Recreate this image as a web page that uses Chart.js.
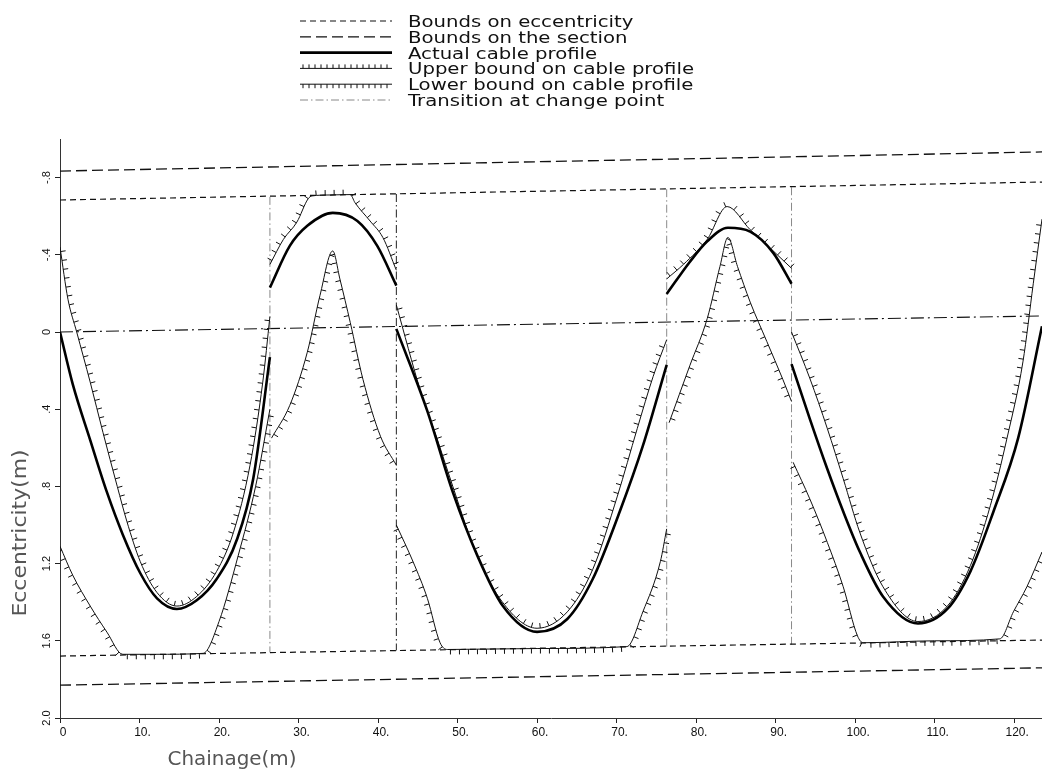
<!DOCTYPE html>
<html>
<head>
<meta charset="utf-8">
<script src="https://cdn.jsdelivr.net/npm/chart.js@4.4.0/dist/chart.umd.min.js"></script>
<style>
  html, body { margin: 0; padding: 0; background: #fff; }
  #wrap { width: 1042px; height: 777px; }
</style>
</head>
<body>
<div id="wrap"><canvas id="chart" width="1042" height="777"></canvas></div>
<script>
// chainage (m) against eccentricity (m)
// null y breaks a curve at a change point
const xTickValues = [0, 10, 20, 30, 40, 50, 60, 70, 80, 90, 100, 110, 120];
const xTickLabels = ['0', '10.', '20.', '30.', '40.', '50.', '60.', '70.', '80.', '90.', '100.', '110.', '120.'];
const yTickValues = [-0.8, -0.4, 0, 0.4, 0.8, 1.2, 1.6, 2.0];
const yTickLabels = ['-.8', '-.4', '0', '.4', '.8', '1.2', '1.6', '2.0'];

const legendLabels = [
  'Bounds on eccentricity',
  'Bounds on the section',
  'Actual cable profile',
  'Upper bound on cable profile',
  'Lower bound on cable profile',
  'Transition at change point'
];

const boundX = [0, 123.5];
const eccTopY = [-0.684, -0.777];
const eccBotY = [1.679, 1.596];
const secTopY = [-0.834, -0.933];
const secBotY = [1.83, 1.74];
const zeroY = [0, -0.083];

const actualX = [0, 1.6, 3.8, 5.9, 7.9, 10.1, 12.2, 14.7, 17.2, 19.7, 22.3, 24.3, 26.4,
  26.4, 26.4, 28.9, 31.1, 34.3, 37.4, 39.9, 42.3,
  42.3, 42.3, 46.2, 49.4, 52.5, 55.7, 60.0, 63.8, 67.0, 70.4, 73.3, 76.3,
  76.3, 76.3, 79.2, 81.4, 84.0, 86.8, 89.7, 92.0,
  92.0, 92.0, 94.3, 96.5, 98.5, 100.6, 103.5, 107.9, 111.6, 114.5, 117.4, 120.5, 123.5];
const actualY = [0, 0.27, 0.56, 0.83, 1.05, 1.25, 1.38, 1.435, 1.39, 1.28, 1.07, 0.76, 0.13,
  null, -0.23, -0.446, -0.55, -0.617, -0.575, -0.446, -0.24,
  null, -0.016, 0.41, 0.83, 1.16, 1.42, 1.554, 1.487, 1.28, 0.93, 0.59, 0.17,
  null, -0.197, -0.363, -0.47, -0.54, -0.52, -0.41, -0.25,
  null, 0.166, 0.45, 0.71, 0.93, 1.14, 1.37, 1.51, 1.435, 1.24, 0.93, 0.55, -0.03];

const upperX = [0, 1.0, 2.1, 3.8, 5.4, 7.2, 8.4, 10.1, 12.2, 14.7, 17.2, 19.7, 21.8, 23.9, 25.5, 26.4,
  26.4, 26.4, 28.1, 29.8, 31.2, 31.7, 34.0, 36.5, 37.1, 39.0, 40.6, 42.3,
  42.3, 42.3, 45.3, 47.4, 49.4, 52.0, 55.3, 60.0, 63.8, 67.0, 70.1, 72.6, 74.6, 76.3,
  76.3, 76.3, 78.4, 81.4, 83.9, 86.8, 89.7, 92.0,
  92.0, 92.0, 94.3, 96.5, 98.5, 100.6, 103.5, 107.9, 111.6, 114.5, 117.0, 119.1, 121.1, 122.4, 123.5];
const upperY = [-0.44, -0.17, 0.0, 0.26, 0.52, 0.80, 0.98, 1.19, 1.35, 1.42, 1.37, 1.24, 1.04, 0.69, 0.26, -0.08,
  null, -0.35, -0.48, -0.57, -0.69, -0.705, -0.71, -0.712, -0.67, -0.575, -0.49, -0.32,
  null, -0.14, 0.30, 0.55, 0.80, 1.11, 1.38, 1.535, 1.45, 1.23, 0.85, 0.50, 0.23, 0.04,
  null, -0.275, -0.35, -0.48, -0.65, -0.53, -0.42, -0.33,
  null, 0.0, 0.24, 0.50, 0.76, 1.04, 1.32, 1.50, 1.42, 1.21, 0.90, 0.55, 0.155, -0.25, -0.585];

const lowerX = [0, 1.6, 3.8, 5.9, 7.9, 12.0, 18.0, 20.0, 22.4, 24.6, 26.4,
  26.4, 26.6, 28.9, 31.1, 32.7, 34.3, 35.2, 36.5, 38.1, 40.3, 42.3,
  42.3, 42.3, 44.4, 46.2, 47.8, 48.7, 60.0, 71.3, 73.3, 75.5, 76.3,
  76.3, 76.6, 79.2, 81.4, 83.0, 84.0, 85.2, 86.8, 88.9, 90.9, 92.0,
  92.0, 92.2, 94.3, 96.5, 98.5, 100.3, 101.0, 110.0, 118.2, 119.9, 121.6, 123.5];
const lowerY = [1.11, 1.26, 1.42, 1.555, 1.67, 1.67, 1.665, 1.50, 1.16, 0.80, 0.40,
  null, 0.55, 0.38, 0.105, -0.19, -0.42, -0.275, -0.05, 0.245, 0.54, 0.69,
  null, 1.0, 1.19, 1.38, 1.61, 1.645, 1.64, 1.63, 1.45, 1.19, 1.02,
  null, 0.47, 0.175, -0.07, -0.34, -0.49, -0.34, -0.155, 0.05, 0.245, 0.36,
  null, 0.675, 0.865, 1.09, 1.32, 1.575, 1.61, 1.60, 1.59, 1.45, 1.32, 1.14];

const transX = [26.4, 42.3, 76.3, 92.0];
const transTopY = [-0.70, -0.715, -0.74, -0.75];
const transBotY = [1.66, 1.65, 1.63, 1.62];

const pairs = (xs, ys) => xs.map((x, i) => ({ x: x, y: ys[i] }));
const joined = (a, b) => [...a, { x: a[a.length - 1].x, y: null }, ...b];

const transData = transX.flatMap((x, i) => [
  { x: x, y: transTopY[i] }, { x: x, y: transBotY[i] }, { x: x, y: null }
]);

const flat = { pointRadius: 0, fill: false, tension: 0 };
const curved = { pointRadius: 0, fill: false, cubicInterpolationMode: 'monotone' };

const datasets = [
  { ...flat, label: legendLabels[0], data: joined(pairs(boundX, eccTopY), pairs(boundX, eccBotY)),
    borderColor: '#111', borderWidth: 1.2, borderDash: [6, 4], inLegend: true },
  { ...flat, label: legendLabels[1], data: joined(pairs(boundX, secTopY), pairs(boundX, secBotY)),
    borderColor: '#111', borderWidth: 1.3, borderDash: [11, 5], inLegend: true },
  { ...curved, label: legendLabels[2], data: pairs(actualX, actualY),
    borderColor: '#000', borderWidth: 2.6, inLegend: true },
  { ...curved, label: legendLabels[3], data: pairs(upperX, upperY),
    borderColor: '#111', borderWidth: 1, tickSide: 'up', inLegend: true },
  { ...curved, label: legendLabels[4], data: pairs(lowerX, lowerY),
    borderColor: '#111', borderWidth: 1, tickSide: 'down', inLegend: true },
  { ...flat, label: legendLabels[5], data: transData,
    borderColor: '#888', borderWidth: 1, borderDash: [8, 3, 1.5, 3], inLegend: true,
    segment: { borderColor: c => (c.p0DataIndex === 3 ? '#222' : '#8a8a8a') } },
  { ...flat, label: 'zero', data: pairs(boundX, zeroY),
    borderColor: '#111', borderWidth: 1.1, borderDash: [13, 4, 2, 4] }
];

function tickAt(ctx, x, y, dx, dy, side, len) {
  let nx = -dy, ny = dx;
  if ((side === 'up' && ny > 0) || (side === 'down' && ny < 0)) { nx = -nx; ny = -ny; }
  ctx.moveTo(x, y);
  ctx.lineTo(x + nx * len, y + ny * len);
}

// small ticks along the bound curves, following the drawn bezier path
const tickMarks = {
  id: 'tickMarks',
  afterDatasetsDraw(chart) {
    const ctx = chart.ctx;
    const area = chart.chartArea;
    const spacing = 9, len = 5;
    chart.data.datasets.forEach((ds, i) => {
      if (!ds.tickSide) return;
      const pts = chart.getDatasetMeta(i).data;
      ctx.save();
      ctx.beginPath();
      ctx.rect(area.left, area.top, area.right - area.left, area.bottom - area.top);
      ctx.clip();
      ctx.strokeStyle = ds.borderColor;
      ctx.lineWidth = 1;
      ctx.beginPath();
      let dist = spacing / 2;
      for (let k = 0; k < pts.length - 1; k++) {
        const a = pts[k], b = pts[k + 1];
        if (a.skip || b.skip) { dist = spacing / 2; continue; }
        const c1x = a.cp2x ?? a.x, c1y = a.cp2y ?? a.y;
        const c2x = b.cp1x ?? b.x, c2y = b.cp1y ?? b.y;
        let px = a.x, py = a.y;
        for (let s = 1; s <= 24; s++) {
          const t = s / 24, u = 1 - t;
          const x = u * u * u * a.x + 3 * u * u * t * c1x + 3 * u * t * t * c2x + t * t * t * b.x;
          const y = u * u * u * a.y + 3 * u * u * t * c1y + 3 * u * t * t * c2y + t * t * t * b.y;
          const L = Math.hypot(x - px, y - py);
          if (L > 0) {
            const ux = (x - px) / L, uy = (y - py) / L;
            let pos = 0;
            while (L - pos >= dist) {
              pos += dist;
              tickAt(ctx, px + ux * pos, py + uy * pos, ux, uy, ds.tickSide, len);
              dist = spacing;
            }
            dist -= (L - pos);
          }
          px = x; py = y;
        }
      }
      ctx.stroke();
      ctx.restore();
    });
  }
};

const labelsAndLegend = {
  id: 'labelsAndLegend',
  afterDraw(chart) {
    const ctx = chart.ctx;
    const xs = chart.scales.x, ys = chart.scales.y;
    ctx.save();
    ctx.fillStyle = '#111';
    ctx.textAlign = 'center';
    ctx.textBaseline = 'middle';

    ctx.font = '12px "Liberation Sans", Arial, sans-serif';
    xTickValues.forEach((v, i) => {
      ctx.fillText(xTickLabels[i], xs.getPixelForValue(v) + 3, 733);
    });

    ctx.font = '11px "Liberation Sans", Arial, sans-serif';
    yTickValues.forEach((v, i) => {
      ctx.save();
      ctx.translate(47, ys.getPixelForValue(v));
      ctx.rotate(-Math.PI / 2);
      ctx.fillText(yTickLabels[i], 0, 0);
      ctx.restore();
    });

    ctx.fillStyle = '#555';
    ctx.font = '19px "DejaVu Sans", sans-serif';
    ctx.save();
    ctx.translate(232, 760);
    const cw = ctx.measureText('Chainage(m)').width;
    ctx.scale(129 / cw, 1);
    ctx.fillText('Chainage(m)', 0, 0);
    ctx.restore();

    ctx.save();
    ctx.translate(21, 533);
    ctx.rotate(-Math.PI / 2);
    const ew = ctx.measureText('Eccentricity(m)').width;
    ctx.scale(167 / ew, 1);
    ctx.fillText('Eccentricity(m)', 0, 0);
    ctx.restore();

    // legend
    const rows = chart.data.datasets.filter(d => d.inLegend);
    ctx.font = '16px "DejaVu Sans", sans-serif';
    ctx.textAlign = 'left';
    ctx.textBaseline = 'alphabetic';
    const widest = Math.max(...rows.map(d => ctx.measureText(d.label).width));
    const sx = 286 / widest;
    const x0 = 300, x1 = 392, tx = 408;
    rows.forEach((d, i) => {
      const base = 27 + i * 15.8;
      const ly = base - 6;
      ctx.save();
      ctx.strokeStyle = d.borderColor;
      ctx.lineWidth = d.borderWidth;
      ctx.setLineDash(d.borderDash || []);
      ctx.beginPath();
      ctx.moveTo(x0, ly);
      ctx.lineTo(x1, ly);
      ctx.stroke();
      if (d.tickSide) {
        ctx.setLineDash([]);
        ctx.lineWidth = 1;
        ctx.beginPath();
        for (let x = x0 + 3; x <= x1; x += 6) {
          ctx.moveTo(x, ly);
          ctx.lineTo(x, d.tickSide === 'up' ? ly - 4 : ly + 4);
        }
        ctx.stroke();
      }
      ctx.restore();
      ctx.save();
      ctx.fillStyle = '#111';
      ctx.translate(tx, base);
      ctx.scale(sx, 1);
      ctx.fillText(d.label, 0, 0);
      ctx.restore();
    });
    ctx.restore();
  }
};

new Chart(document.getElementById('chart'), {
  type: 'line',
  data: { datasets: datasets },
  options: {
    responsive: false,
    animation: false,
    layout: { padding: { top: 139, right: 0, bottom: 0, left: 0 } },
    plugins: {
      legend: { display: false },
      tooltip: { enabled: false }
    },
    scales: {
      x: {
        type: 'linear',
        min: 0,
        max: 123.5,
        afterBuildTicks: s => { s.ticks = xTickValues.map(v => ({ value: v })); },
        afterFit: s => { s.height = 59; },
        ticks: { display: false },
        grid: { drawOnChartArea: false, color: '#222', tickLength: 5 },
        border: { color: '#333', width: 1 }
      },
      y: {
        type: 'linear',
        reverse: true,
        min: -1.0,
        max: 2.0,
        afterBuildTicks: s => { s.ticks = yTickValues.map(v => ({ value: v })); },
        afterFit: s => { s.width = 60; },
        ticks: { display: false },
        grid: { drawOnChartArea: false, color: '#222', tickLength: 5 },
        border: { color: '#333', width: 1 }
      }
    }
  },
  plugins: [tickMarks, labelsAndLegend]
});
</script>
</body>
</html>
